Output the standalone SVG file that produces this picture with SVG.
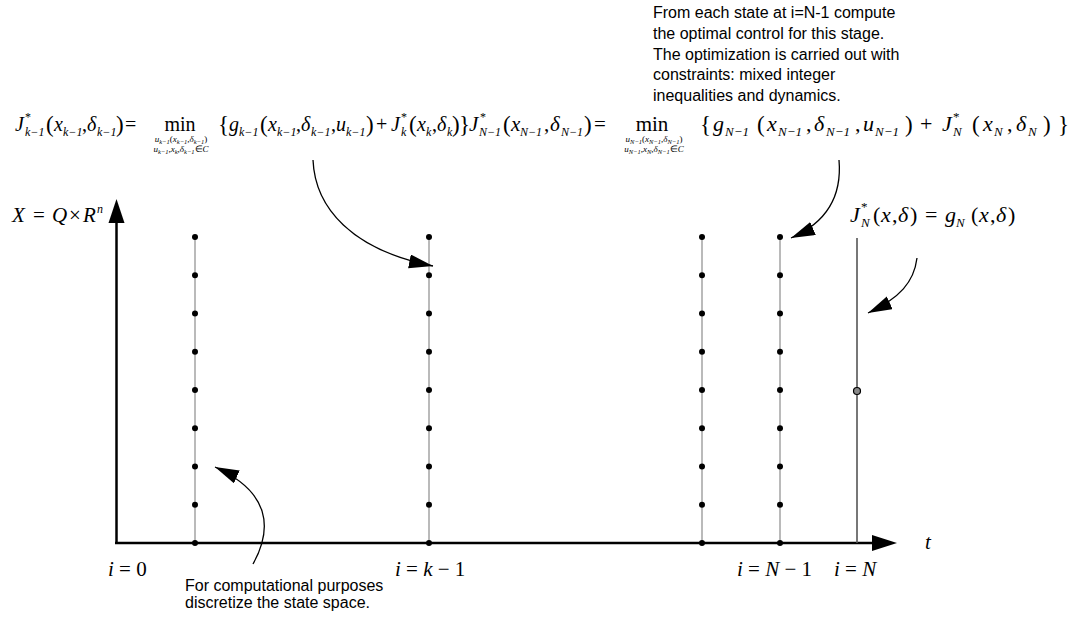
<svg xmlns="http://www.w3.org/2000/svg" width="1090" height="621" viewBox="0 0 1090 621">
<defs>
<style>
.m{font-family:"Liberation Serif","Times New Roman",serif;font-size:21px;font-style:italic;fill:#000}
.f1{font-size:20px}
.f2{font-size:22px}
.r{font-style:normal}
.s{font-size:12px}
.s2{font-size:13px}
.b{font-size:23px;font-style:normal}
.u{font-family:"Liberation Serif","Times New Roman",serif;font-size:9px;font-style:italic;fill:#000}
.uu{font-size:6.5px}
.note{font-family:"Liberation Sans",Arial,sans-serif;font-size:16px;fill:#000}
.ax{stroke:#000;stroke-width:2.5;fill:none}
.col{stroke:#8c8c8c;stroke-width:1.2}
.colN{stroke:#555;stroke-width:1.6}
.cv{stroke:#000;stroke-width:1.3;fill:none;marker-end:url(#ah)}
</style>
<marker id="ah" markerUnits="userSpaceOnUse" markerWidth="26" markerHeight="16" refX="24" refY="7" orient="auto"><path d="M0,0 L24,7 L0,14 Z" fill="#000"/></marker>
<g id="stage">
<line x1="0" y1="237" x2="0" y2="543" class="col"/>
<circle cx="0" cy="237" r="3"/><circle cx="0" cy="275.25" r="3"/><circle cx="0" cy="313.5" r="3"/><circle cx="0" cy="351.75" r="3"/><circle cx="0" cy="390" r="3"/><circle cx="0" cy="428.25" r="3"/><circle cx="0" cy="466.5" r="3"/><circle cx="0" cy="504.75" r="3"/><circle cx="0" cy="543" r="3"/>
</g>
</defs>
<rect width="1090" height="621" fill="#fff"/>

<g id="axes">
<line x1="116.5" y1="543" x2="116.5" y2="221" class="ax"/>
<polygon points="116.5,199 108.5,223 124.5,223"/>
<line x1="115" y1="543" x2="874" y2="543" class="ax"/>
<polygon points="897,543 872,535 872,551"/>
<text class="m" x="925" y="549">t</text>
<text class="m"><tspan x="12" y="222">X</tspan><tspan class="r" x="33" y="222">=</tspan><tspan x="52" y="222">Q</tspan><tspan class="r" x="69" y="222">×</tspan><tspan x="83" y="222">R</tspan><tspan class="s" x="97" y="213">n</tspan></text>
</g>

<g id="stage-0"><use href="#stage" x="195"/><text class="m" x="108" y="576">i<tspan class="r"> = 0</tspan></text></g>
<g id="stage-k-1"><use href="#stage" x="429"/><text class="m" x="395" y="576">i<tspan class="r"> = </tspan>k<tspan class="r"> − 1</tspan></text></g>
<g id="stage-N-2"><use href="#stage" x="702"/></g>
<g id="stage-N-1"><use href="#stage" x="780"/><text class="m" x="737" y="576">i<tspan class="r"> = </tspan>N<tspan class="r"> − 1</tspan></text></g>
<g id="stage-N">
<line x1="857" y1="238" x2="857" y2="543" class="colN"/>
<circle cx="857" cy="391" r="3.5" fill="#888" stroke="#000" stroke-width="1.2"/>
<text class="m" x="834" y="576">i<tspan class="r"> = </tspan>N</text>
</g>

<g id="terminal-cost">
<text class="m f2"><tspan x="850" y="222">J</tspan><tspan class="s2 r" x="861" y="211">*</tspan><tspan class="s2" x="861" y="227">N</tspan><tspan class="r" x="873" y="222">(</tspan><tspan x="881" y="222">x</tspan><tspan class="r" x="892" y="222">,</tspan><tspan x="898" y="222">δ</tspan><tspan class="r" x="910" y="222">)</tspan><tspan class="r" x="925" y="222">=</tspan><tspan x="945" y="222">g</tspan><tspan class="s2" x="956" y="227">N</tspan><tspan class="r" x="971" y="222">(</tspan><tspan x="979" y="222">x</tspan><tspan class="r" x="990" y="222">,</tspan><tspan x="996" y="222">δ</tspan><tspan class="r" x="1008" y="222">)</tspan></text>
</g>

<g id="bellman-k">
<text class="m f1"><tspan x="15" y="131">J</tspan><tspan class="s r" x="25" y="121">*</tspan><tspan class="s" x="25" y="136">k−1</tspan><tspan class="b" x="46" y="132">(</tspan><tspan x="54" y="131">x</tspan><tspan class="s" x="63" y="136">k−1</tspan><tspan class="r" x="82" y="131">,</tspan><tspan x="87" y="131">δ</tspan><tspan class="s" x="97" y="136">k−1</tspan><tspan class="b" x="116" y="132">)</tspan><tspan class="r" x="125" y="131">=</tspan><tspan class="b" x="218" y="132">{</tspan><tspan x="229" y="131">g</tspan><tspan class="s" x="239" y="136">k−1</tspan><tspan class="b" x="260" y="132">(</tspan><tspan x="268" y="131">x</tspan><tspan class="s" x="277" y="136">k−1</tspan><tspan class="r" x="296" y="131">,</tspan><tspan x="301" y="131">δ</tspan><tspan class="s" x="311" y="136">k−1</tspan><tspan class="r" x="331" y="131">,</tspan><tspan x="336" y="131">u</tspan><tspan class="s" x="346" y="136">k−1</tspan><tspan class="b" x="366" y="132">)</tspan><tspan class="r" x="376" y="131">+</tspan><tspan x="391" y="131">J</tspan><tspan class="s r" x="401" y="121">*</tspan><tspan class="s" x="401" y="136">k</tspan><tspan class="b" x="409" y="132">(</tspan><tspan x="417" y="131">x</tspan><tspan class="s" x="426" y="136">k</tspan><tspan class="r" x="432" y="131">,</tspan><tspan x="437" y="131">δ</tspan><tspan class="s" x="447" y="136">k</tspan><tspan class="b" x="452" y="132">)</tspan><tspan class="b" x="459" y="132">}</tspan></text>
<text class="m f1 r" x="180" y="131" text-anchor="middle">min</text>
<text class="u" x="181" y="142" text-anchor="middle">u<tspan class="uu" dy="1.5">k−1</tspan><tspan class="r" dy="-1.5">(</tspan>x<tspan class="uu" dy="1.5">k−1</tspan><tspan class="r" dy="-1.5">,</tspan>δ<tspan class="uu" dy="1.5">k−1</tspan><tspan class="r" dy="-1.5">)</tspan></text>
<text class="u" x="181" y="152" text-anchor="middle">u<tspan class="uu" dy="1.5">k−1</tspan><tspan class="r" dy="-1.5">,</tspan>x<tspan class="uu" dy="1.5">k</tspan><tspan class="r" dy="-1.5">,</tspan>δ<tspan class="uu" dy="1.5">k−1</tspan><tspan class="r" dy="-1.5">∈</tspan>C</text>
</g>

<g id="bellman-N">
<text class="m"><tspan x="469" y="131">J</tspan><tspan class="s r" x="480" y="121">*</tspan><tspan class="s" x="479" y="136">N−1</tspan><tspan class="b" x="503" y="132">(</tspan><tspan x="511" y="131">x</tspan><tspan class="s" x="520" y="136">N−1</tspan><tspan class="r" x="544" y="131">,</tspan><tspan x="550" y="131">δ</tspan><tspan class="s" x="561" y="136">N−1</tspan><tspan class="b" x="584" y="132">)</tspan><tspan class="r" x="594" y="131">=</tspan></text>
<text class="m r" x="652" y="131" text-anchor="middle">min</text>
<text class="u" x="654" y="142" text-anchor="middle">u<tspan class="uu" dy="1.5">N−1</tspan><tspan class="r" dy="-1.5">(</tspan>x<tspan class="uu" dy="1.5">N−1</tspan><tspan class="r" dy="-1.5">,</tspan>δ<tspan class="uu" dy="1.5">N−1</tspan><tspan class="r" dy="-1.5">)</tspan></text>
<text class="u" x="654" y="152" text-anchor="middle">u<tspan class="uu" dy="1.5">N−1</tspan><tspan class="r" dy="-1.5">,</tspan>x<tspan class="uu" dy="1.5">N</tspan><tspan class="r" dy="-1.5">,</tspan>δ<tspan class="uu" dy="1.5">N−1</tspan><tspan class="r" dy="-1.5">∈</tspan>C</text>
<text class="m f2"><tspan class="b" x="700" y="132">{</tspan><tspan x="713" y="131">g</tspan><tspan class="s2" x="725" y="136">N−1</tspan><tspan class="b" x="757" y="132">(</tspan><tspan x="767" y="131">x</tspan><tspan class="s2" x="778" y="136">N−1</tspan><tspan class="r" x="806" y="131">,</tspan><tspan x="814" y="131">δ</tspan><tspan class="s2" x="826" y="136">N−1</tspan><tspan class="r" x="855" y="131">,</tspan><tspan x="863" y="131">u</tspan><tspan class="s2" x="875" y="136">N−1</tspan><tspan class="b" x="905" y="132">)</tspan><tspan class="r" x="920" y="131">+</tspan><tspan x="942" y="131">J</tspan><tspan class="s2 r" x="953" y="121">*</tspan><tspan class="s2" x="953" y="136">N</tspan><tspan class="b" x="972" y="132">(</tspan><tspan x="983" y="131">x</tspan><tspan class="s2" x="994" y="136">N</tspan><tspan class="r" x="1007" y="131">,</tspan><tspan x="1016" y="131">δ</tspan><tspan class="s2" x="1028" y="136">N</tspan><tspan class="b" x="1043" y="132">)</tspan><tspan class="b" x="1058" y="132">}</tspan></text>
</g>

<g id="note-top">
<text class="note"><tspan x="653" y="18">From each state at i=N-1 compute</tspan><tspan x="653" y="39">the optimal control for this stage.</tspan><tspan x="653" y="60">The optimization is carried out with</tspan><tspan x="653" y="80">constraints: mixed integer</tspan><tspan x="653" y="101">inequalities and dynamics.</tspan></text>
</g>
<g id="note-bottom">
<text class="note"><tspan x="185" y="591">For computational purposes</tspan><tspan x="185" y="608">discretize the state space.</tspan></text>
</g>

<g id="connectors">
<path class="cv" d="M313,160 C315,208 352,250 433,266"/>
<path class="cv" d="M839,160 C842,195 828,222 791,238"/>
<path class="cv" d="M917,258 C914,282 900,298 868,313"/>
<path class="cv" d="M253,564 C273,528 270,492 215,467"/>
</g>
</svg>
